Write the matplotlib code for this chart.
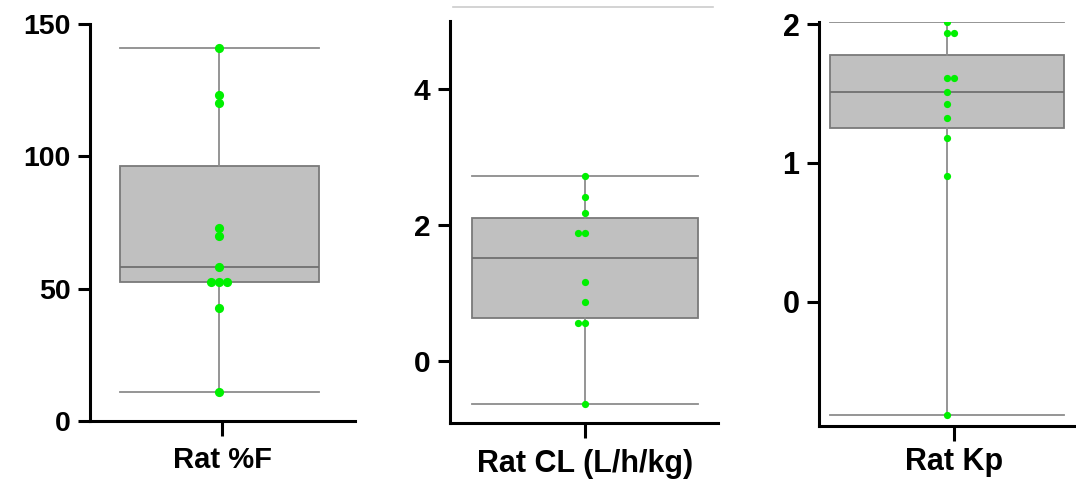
import matplotlib
matplotlib.use("Agg")
import matplotlib.pyplot as plt
from matplotlib.lines import Line2D

plt.rcParams['font.family'] = ['Liberation Sans', 'DejaVu Sans']
plt.rcParams['font.weight'] = 'bold'

# values
rat_f = [140.9, 123.0, 120.0, 73.0, 70.0, 58.3, 52.4, 52.4, 52.4, 42.7, 11.1]
rat_cl = [2.72, 2.42, 2.18, 1.88, 1.88, 1.16, 0.87, 0.57, 0.57, -0.62]
rat_kp = [2.015, 1.938, 1.938, 1.612, 1.612, 1.508, 1.422, 1.326, 1.177, 0.908, -0.818]

labels = ['Rat %F', 'Rat CL (L/h/kg)', 'Rat Kp']
yticks = [[0, 50, 100, 150], [0, 2, 4], [0, 1, 2]]
ylims = [(0, 150), (-0.9, 5.0), (-0.895, 2.015)]

W, H = 1076, 479
fig = plt.figure(figsize=(W / 100, H / 100), dpi=100)

# pixel boxes (left, top, right, bottom), centre pixel, box width px
layout = [
    dict(box=(90, 24, 355, 421), cx=219, bw=199, tick_dx=3, side=1, ms=6.6, step=8.3,
         tick_fs=20.5, lab_fs=21, pad=7),
    dict(box=(450, 21, 718, 422.7), cx=585, bw=226, tick_dx=0, side=-1, ms=5.2, step=6.7,
         tick_fs=21.5, lab_fs=22, pad=8),
    dict(box=(819, 22, 1076, 426), cx=947, bw=234, tick_dx=7, side=1, ms=5.2, step=6.7,
         tick_fs=22, lab_fs=22, pad=4),
]


def swarm(vals, step, side):
    # spread equal values sideways like a beeswarm
    order = [0, side, -side, 2 * side, -2 * side]
    offs, seen = [], []
    for v in vals:
        k = sum(1 for s in seen if abs(s - v) < 1e-9)
        offs.append(order[k] * step)
        seen.append(v)
    return offs


for data, lab, yt, yl, g in zip([rat_f, rat_cl, rat_kp], labels, yticks, ylims, layout):
    l, t, r, b = g['box']
    ax = fig.add_axes([l / W, 1 - b / H, (r - l) / W, (b - t) / H])
    ax.boxplot(data, positions=[0], widths=1.0, whis=(0, 100), patch_artist=True,
               capwidths=1.0, showfliers=False,
               boxprops=dict(facecolor='#c0c0c0', edgecolor='#7a7a7a', linewidth=1.3),
               medianprops=dict(color='#707070', linewidth=1.3),
               whiskerprops=dict(color='#8c8c8c', linewidth=1.3),
               capprops=dict(color='#8c8c8c', linewidth=1.3))
    offs = swarm(data, g['step'] / g['bw'], g['side'])
    ax.plot(offs, data, 'o', color='#00f000', ms=g['ms'], mec='none', zorder=5)

    ax.set_xlim(-(g['cx'] - l) / g['bw'], (r - g['cx']) / g['bw'])
    ax.set_ylim(*yl)
    ax.set_yticks(yt)
    ax.set_xticks([g['tick_dx'] / g['bw']])
    ax.set_xticklabels([lab], fontsize=g['lab_fs'], fontweight='bold')
    ax.tick_params(axis='y', labelsize=g['tick_fs'], width=2.2, length=9, pad=5)
    ax.tick_params(axis='x', width=2.2, length=11, pad=g['pad'])
    for s in ['top', 'right']:
        ax.spines[s].set_visible(False)
    for s in ['left', 'bottom']:
        ax.spines[s].set_linewidth(2.2)
    ax.patch.set_alpha(0)

# faint line at the very top of the middle panel
fig.add_artist(Line2D([453 / W, 713 / W], [1 - 7 / H, 1 - 7 / H], color='#cccccc', lw=1.2))

fig.savefig('out.png', dpi=100)
